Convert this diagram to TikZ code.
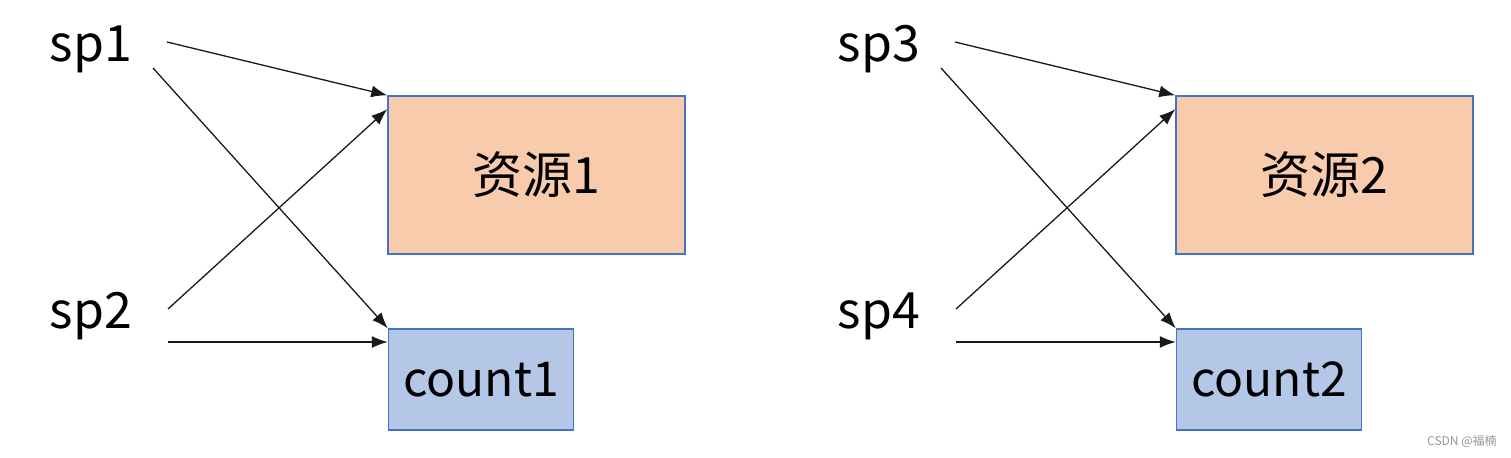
\documentclass[tikz,border=0pt]{standalone}
\usepackage{fontspec}
\setmainfont{Noto Sans CJK SC}
\usetikzlibrary{arrows.meta,positioning}
\definecolor{resfill}{RGB}{248,203,173}
\definecolor{cntfill}{RGB}{180,199,231}
\definecolor{boxline}{RGB}{68,114,196}
\definecolor{marktext}{RGB}{150,150,150}
\begin{document}
\begin{tikzpicture}[x=0.5pt, y=-0.5pt, >={Latex[length=8pt,width=6pt]},
 every node/.style={font=\fontsize{25}{30}\selectfont},
 sp/.style={anchor=base, inner sep=0pt},
 res/.style={draw=boxline, line width=0.75pt, fill=resfill, minimum width=148.5pt, minimum height=79pt, inner sep=0pt},
 cnt/.style={draw=boxline, line width=0.75pt, fill=cntfill, minimum width=92.5pt, minimum height=50.5pt, inner sep=0pt, font=\fontsize{24}{29}\selectfont},
 link/.style={->, line width=0.65pt, draw=black!90}]
\useasboundingbox (0,0) rectangle (1511,457);
% left group
\node[sp] (sp1) at (91,61) {sp1};
\node[sp] (sp2) at (91,328) {sp2};
\node[res] (res1) at (536.5,175) {资源1};
\node[cnt] (cnt1) at (481,379.5) {count1};
\coordinate (sp1a) at (167,42);
\coordinate (sp1b) at (153,68);
\coordinate (sp2a) at (168,309);
\coordinate (sp2b) at (168,342);
\draw[link] (sp1a) -- (res1.north west);
\draw[link] (sp1b) -- (cnt1.north west);
\draw[link] (sp2a) -- ([yshift=-7pt]res1.north west);
\draw[link] (sp2b) -- (cnt1.west |- sp2b);
% right group
\node[sp] (sp3) at (879,61) {sp3};
\node[sp] (sp4) at (879,328) {sp4};
\node[res] (res2) at (1324.5,175) {资源2};
\node[cnt] (cnt2) at (1269,379.5) {count2};
\coordinate (sp3a) at (955,42);
\coordinate (sp3b) at (941,68);
\coordinate (sp4a) at (956,309);
\coordinate (sp4b) at (956,342);
\draw[link] (sp3a) -- (res2.north west);
\draw[link] (sp3b) -- (cnt2.north west);
\draw[link] (sp4a) -- ([yshift=-7pt]res2.north west);
\draw[link] (sp4b) -- (cnt2.west |- sp4b);
% watermark
\node[font=\fontsize{6}{7}\selectfont, text=marktext, anchor=east, inner sep=0pt] (mark) at (1497,441) {CSDN @福楠};
\end{tikzpicture}
\end{document}
